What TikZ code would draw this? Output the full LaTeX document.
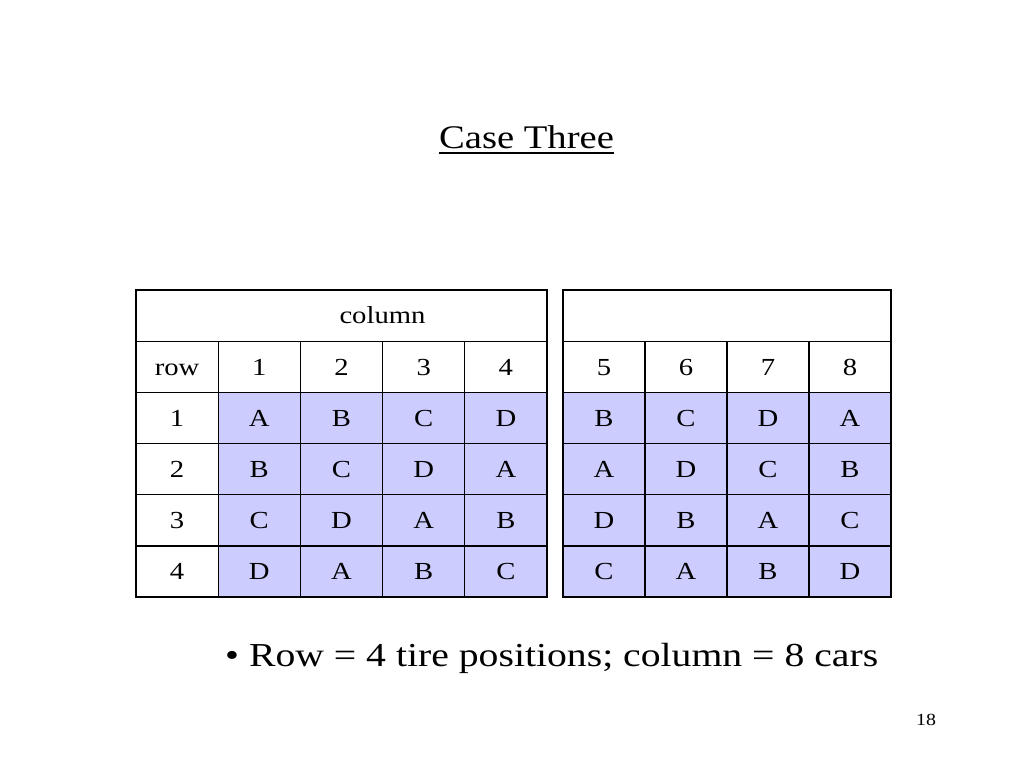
\documentclass[tikz,border=0pt]{standalone}
\usepackage{fontspec}
\setmainfont{Liberation Serif}
\definecolor{cellfill}{RGB}{204,204,255}
\newcommand{\wide}[1]{\scalebox{1.17}[1]{#1}}
\begin{document}
\begin{tikzpicture}[x=1pt,y=-1pt,
  celltext/.style={inner sep=0pt, anchor=base, yshift=-8.2pt, font=\fontsize{24.5}{28}\selectfont},
  thinline/.style={line width=1.3pt},
  thickline/.style={line width=2.8pt}]
\useasboundingbox[fill=white] (0,0) rectangle (1024,768);
% title
\node[inner sep=0pt, anchor=base, font=\fontsize{33}{38}\selectfont] (title) at (526.5,148) {\wide{Case Three}};
\draw[line width=1.8pt] ([yshift=-5pt]title.base west) -- ([yshift=-5pt]title.base east);
% geometry
\def\rh{51.17}
% fills
\fill[cellfill] (218,392.34) rectangle (547,597);
\fill[cellfill] (563,392.34) rectangle (891,597);
% left table inner lines
\foreach \j in {1,...,5} {\draw[thinline] (136,290+\j*\rh) -- (547,290+\j*\rh);}
\foreach \i in {1,...,4} {\draw[thinline] (136+\i*82.2,341.17) -- (136+\i*82.2,597);}
% right table inner lines
\foreach \j in {1,...,5} {\draw[thinline] (563,290+\j*\rh) -- (891,290+\j*\rh);}
\foreach \i in {1,...,3} {\draw[thinline] (563+\i*82,341.17) -- (563+\i*82,597);}
% outer borders
\draw[thickline] (136,290) rectangle (547,597);
\draw[thickline] (563,290) rectangle (891,597);
% header
\node[celltext] (hcol) at (382.5,315.6) {\wide{column}};
\node[celltext] (hrow) at (177.1,366.8) {\wide{row}};
\foreach \t [count=\i] in {1,2,3,4} {\node[celltext] (hl\i) at (136+\i*82.2+41.1,366.8) {\wide{\t}};}
\foreach \t [count=\i] in {5,6,7,8} {\node[celltext] (hr\i) at (563+\i*82-41,366.8) {\wide{\t}};}
% row labels
\foreach \r in {1,2,3,4} {\node[celltext] (rl\r) at (177.1,290+\r*\rh+\rh+\rh/2) {\wide{\r}};}
% left data
\foreach \row [count=\r] in {{A,B,C,D},{B,C,D,A},{C,D,A,B},{D,A,B,C}} {
  \foreach \t [count=\c] in \row {
    \node[celltext] (L\r\c) at (136+\c*82.2+41.1,290+\r*\rh+\rh/2+\rh) {\wide{\t}};
  }
}
% right data
\foreach \row [count=\r] in {{B,C,D,A},{A,D,C,B},{D,B,A,C},{C,A,B,D}} {
  \foreach \t [count=\c] in \row {
    \node[celltext] (R\r\c) at (563+\c*82-41,290+\r*\rh+\rh/2+\rh) {\wide{\t}};
  }
}
% bullet
\node[inner sep=0pt, anchor=base west, font=\fontsize{33.5}{38}\selectfont] (bullet) at (225,666) {\scalebox{1.185}[1]{• Row = 4 tire positions; column = 8 cars}};
% page number
\node[inner sep=0pt, anchor=base, font=\fontsize{17}{20}\selectfont] (page) at (926,725) {\wide{18}};
\end{tikzpicture}
\end{document}
